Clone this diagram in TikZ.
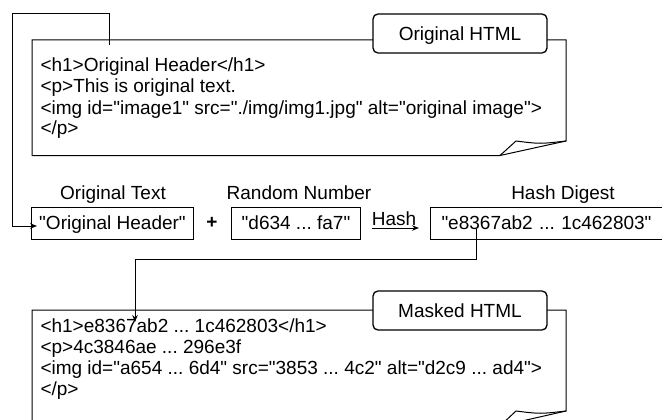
\documentclass[tikz,border=0pt]{standalone}
\usepackage{fontspec}
\setmainfont{Liberation Sans}[Ligatures=TeXOff]
\usetikzlibrary{arrows.meta}
\begin{document}
\frenchspacing
\begin{tikzpicture}[x=1pt,y=-1pt,line width=1pt,
  txt/.style={font=\fontsize{19}{21}\selectfont, inner sep=0pt},
  codeline/.style={txt, anchor=base west},
  lbl/.style={txt, anchor=base},
  valbox/.style={txt, draw, minimum height=32pt, text height=13.6pt, text depth=0pt, anchor=west},
  tagbox/.style={txt, draw, fill=white, line width=1.3pt, rounded corners=5pt, minimum width=174pt, minimum height=39pt, text height=13.6pt, text depth=0pt},
  notebox/.style={draw, line join=miter},
  arr/.style={-{Stealth[length=7pt,width=5.5pt]}}]
\clip (0,0) rectangle (662,420);
\useasboundingbox (0,0) rectangle (662,420);

% Original HTML note
\draw[notebox] (32,40) -- (566,40) -- (566,141) -- (500,155.5) -- (32,155.5) -- cycle;
\draw[notebox] (500,155.5) -- (516,141) .. controls (540,144) .. (566,141);
\node[tagbox] (origtag) at (460,33.5) {Original HTML};
\node[codeline] (o1) at (40,72) {<h1>Original Header</h1>};
\node[codeline] (o2) at (40,93) {<p>This is original text.};
\node[codeline] (o3) at (40,114) {<img id="image1" src="./img/img1.jpg" alt="original image">};
\node[codeline] (o4) at (40,135) {</p>};

% labels
\node[lbl] (tot) at (113,199) {Original Text};
\node[lbl] (trn) at (299,199) {Random Number};
\node[lbl] (thd) at (563,199) {Hash Digest};

% value boxes
\node[valbox, minimum width=162pt] (ot) at (31,223) {"Original Header"};
\node[txt, font=\fontsize{19}{21}\selectfont\bfseries] (plus) at (212,223) {+};
\node[valbox, minimum width=129pt] (rn) at (231,223) {"d634 ... fa7"};
\node[lbl] (hashlbl) at (394,225) {Hash};
\node[valbox, minimum width=236pt, text width=214pt, align=left] (hd) at (430,223) {"e8367ab2 ... 1c462803"};

% hash arrow
\coordinate (hs) at (372,228);
\coordinate (he) at (419,228);
\draw[arr] (hs) -- (he);

% connector from original header to text box
\coordinate (c1) at (109,45);
\draw[arr] (c1) -- (109,14) -- (12,14) |- ([xshift=6pt,yshift=-3pt]ot.west);

% connector from hash digest to masked html
\coordinate (c2) at (476,229);
\coordinate (c3) at (135,322);
\draw[arr] (c2) -- (476,259) -| (c3);

% Masked HTML note
\draw[notebox] (32,310) -- (566,310) -- (566,411) -- (500,426) -- (32,426) -- cycle;
\draw[notebox] (500,426) -- (516,411) .. controls (540,414) .. (566,411);
\node[tagbox] (masktag) at (460,310.5) {Masked HTML};
\node[codeline] (m1) at (40,332) {<h1>e8367ab2 ... 1c462803</h1>};
\node[codeline] (m2) at (40,353) {<p>4c3846ae ... 296e3f};
\node[codeline] (m3) at (40,374) {<img id="a654 ... 6d4" src="3853 ... 4c2" alt="d2c9 ... ad4">};
\node[codeline] (m4) at (40,395) {</p>};
\end{tikzpicture}
\end{document}
